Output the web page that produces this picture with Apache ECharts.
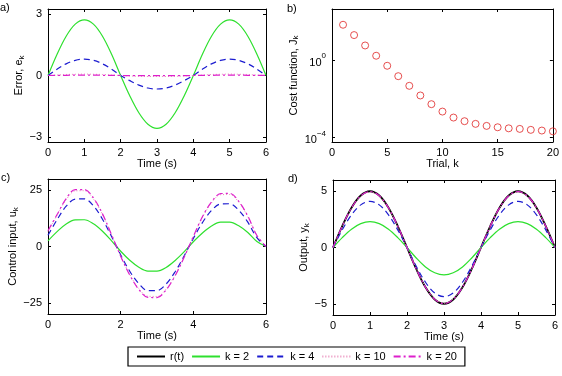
<!DOCTYPE html>
<html>
<head>
<meta charset="utf-8">
<script src="https://cdn.jsdelivr.net/npm/echarts@6/dist/echarts.min.js"></script>
<style>
  html, body { margin: 0; padding: 0; background: #fff; }
  #chart { width: 562px; height: 376px; }
</style>
</head>
<body>
<div id="chart"></div>
<script>
// time samples (s) shared by panels a, c, d
var TIME = [0, 0.25, 0.5, 0.75, 1, 1.25, 1.5, 1.75, 2, 2.25, 2.5, 2.75, 3,
            3.25, 3.5, 3.75, 4, 4.25, 4.5, 4.75, 5, 5.25, 5.5, 5.75, 6];

// a) error e_k
var E2  = [0, 1.04, 1.92, 2.51, 2.72, 2.51, 1.92, 1.04, 0, -0.99, -1.82, -2.38, -2.58, -2.38, -1.82, -0.99, 0, 1.04, 1.92, 2.51, 2.72, 2.51, 1.92, 1.04, 0];
var E4  = [0, 0.31, 0.57, 0.74, 0.80, 0.74, 0.57, 0.31, 0, -0.25, -0.47, -0.61, -0.66, -0.61, -0.47, -0.25, 0, 0.31, 0.57, 0.74, 0.80, 0.74, 0.57, 0.31, 0];
var E10 = [0, 0.02, 0.05, 0.06, 0.07, 0.06, 0.05, 0.02, 0, -0.02, -0.04, -0.05, -0.05, -0.05, -0.04, -0.02, 0, 0.02, 0.05, 0.06, 0.07, 0.06, 0.05, 0.02, 0];
var E20 = [0, 0.01, 0.01, 0.02, 0.02, 0.02, 0.01, 0.01, 0, -0.01, -0.01, -0.01, -0.01, -0.01, -0.01, -0.01, 0, 0.01, 0.01, 0.02, 0.02, 0.02, 0.01, 0.01, 0];

// b) cost function per trial
var TRIALS = [1, 2, 3, 4, 5, 6, 7, 8, 9, 10, 11, 12, 13, 14, 15, 16, 17, 18, 19, 20];
var COST = [67, 19.6, 5.7, 1.68, 0.51, 0.148, 0.047, 0.0149, 0.0053, 0.0022,
            0.00108, 0.00070, 0.00051, 0.00040, 0.00034, 0.00030, 0.00028, 0.00025, 0.00023, 0.00021];

// c) control input u_k
var U2  = [2.5, 6.6, 10.0, 11.8, 11.9, 10.1, 6.8, 2.5, -2.1, -6.1, -9.2, -10.9, -10.9, -9.3, -6.2, -2.3, 2.1, 6.0, 9.1, 10.8, 10.8, 9.2, 6.2, 2.2, 0];
var U4  = [5.0, 11.9, 17.9, 21.1, 21.2, 18.1, 12.1, 4.4, -3.7, -11.0, -16.5, -19.6, -19.6, -16.7, -11.2, -4.1, 3.6, 10.6, 16.0, 18.9, 19.0, 16.1, 10.8, 3.9, 0];
var U10 = [6.6, 13.9, 20.8, 24.7, 24.8, 21.1, 14.2, 5.1, -4.2, -12.4, -18.7, -22.1, -22.2, -18.9, -12.7, -4.6, 4.4, 12.9, 19.4, 23.0, 23.1, 19.7, 13.2, 4.8, 0];
var U20 = [7.0, 14.2, 21.3, 25.3, 25.3, 21.6, 14.5, 5.2, -4.3, -12.7, -19.1, -22.6, -22.7, -19.3, -13.0, -4.7, 4.5, 13.2, 19.8, 23.5, 23.6, 20.1, 13.5, 4.9, 0];

// d) reference and output y_k
var R   = [0, 1.91, 3.54, 4.62, 5, 4.62, 3.54, 1.91, 0, -1.91, -3.54, -4.62, -5, -4.62, -3.54, -1.91, 0, 1.91, 3.54, 4.62, 5, 4.62, 3.54, 1.91, 0];
var Y2  = [0, 0.88, 1.63, 2.12, 2.30, 2.12, 1.63, 0.88, 0, -0.93, -1.73, -2.25, -2.44, -2.25, -1.73, -0.93, 0, 0.88, 1.63, 2.12, 2.30, 2.12, 1.63, 0.88, 0];
var Y4  = [0, 1.57, 2.90, 3.79, 4.10, 3.79, 2.90, 1.57, 0, -1.67, -3.09, -4.04, -4.37, -4.04, -3.09, -1.67, 0, 1.57, 2.90, 3.79, 4.10, 3.79, 2.90, 1.57, 0];
var Y10 = [0, 1.89, 3.49, 4.56, 4.93, 4.56, 3.49, 1.89, 0, -1.89, -3.50, -4.57, -4.95, -4.57, -3.50, -1.89, 0, 1.89, 3.49, 4.56, 4.93, 4.56, 3.49, 1.89, 0];
var Y20 = [0, 1.90, 3.52, 4.60, 4.98, 4.60, 3.52, 1.90, 0, -1.91, -3.53, -4.61, -4.99, -4.61, -3.53, -1.91, 0, 1.90, 3.52, 4.60, 4.98, 4.60, 3.52, 1.90, 0];

var LEGEND = ['r(t)', 'k = 2', 'k = 4', 'k = 10', 'k = 20'];

var FONT = 'Liberation Sans';
var styles = {
  'r(t)':   { color: '#000000', width: 1.8, type: 'solid' },
  'k = 2':  { color: '#2ee02e', width: 1.2, type: 'solid' },
  'k = 4':  { color: '#1c1cd0', width: 1.2, type: [6, 4] },
  'k = 10': { color: '#e888b8', width: 1, type: [1, 2] },
  'k = 20': { color: '#dd20cc', width: 1.2, type: [7, 3, 2, 3] }
};

function pairs(xs, ys) {
  return xs.map(function (x, i) { return [x, ys[i]]; });
}
function minus(v) { return String(v).replace('-', '\u2212'); }

function line(name, ys, axis) {
  var s = styles[name];
  return {
    name: name, type: 'line', xAxisIndex: axis, yAxisIndex: axis,
    data: pairs(TIME, ys), showSymbol: false, symbol: 'none', silent: true, smooth: 0.35,
    lineStyle: { color: s.color, width: s.width, type: s.type },
    itemStyle: { color: s.color }
  };
}

var axLine = { show: true, onZero: false, lineStyle: { color: '#000', width: 1 } };
var lbl = { color: '#000', fontFamily: FONT, fontSize: 11 };
var nameSty = {
  color: '#000', fontFamily: FONT, fontSize: 11,
  rich: {
    b: { fontFamily: FONT, fontSize: 11, lineHeight: 12, verticalAlign: 'top', color: '#000' },
    s: { fontFamily: FONT, fontSize: 8, lineHeight: 8, padding: [7, 0, 0, 0], verticalAlign: 'bottom', color: '#000' }
  }
};

function xPair(grid, min, max, step, name) {
  return [{
    gridIndex: grid, type: 'value', min: min, max: max, interval: step,
    name: name, nameLocation: 'middle', nameGap: 16, nameTextStyle: nameSty,
    axisLine: axLine, splitLine: { show: false },
    axisTick: { inside: true, length: 3, lineStyle: { color: '#000' } },
    axisLabel: Object.assign({ margin: 5, formatter: minus }, lbl)
  }, {
    gridIndex: grid, type: 'value', position: 'top', min: min, max: max, interval: step,
    axisLine: axLine, splitLine: { show: false },
    axisTick: { inside: true, length: 3, lineStyle: { color: '#000' } },
    axisLabel: { show: false }
  }];
}

function yPair(grid, min, max, ticks, name, gap) {
  return [{
    gridIndex: grid, type: 'value', min: min, max: max,
    name: name, nameLocation: 'middle', nameGap: gap, nameTextStyle: nameSty,
    axisLine: axLine, splitLine: { show: false },
    axisTick: { inside: true, length: 3, customValues: ticks, lineStyle: { color: '#000' } },
    axisLabel: Object.assign({ margin: 6, customValues: ticks, formatter: minus }, lbl)
  }, {
    gridIndex: grid, type: 'value', position: 'right', min: min, max: max,
    axisLine: axLine, splitLine: { show: false },
    axisTick: { inside: true, length: 3, customValues: ticks, lineStyle: { color: '#000' } },
    axisLabel: { show: false }
  }];
}

var xa = [].concat(
  xPair(0, 0, 6, 1, 'Time (s)'),
  xPair(1, 0, 20, 5, 'Trial, k'),
  xPair(2, 0, 6, 2, 'Time (s)'),
  xPair(3, 0, 6, 1, 'Time (s)')
);

var logTicks = [0.0001, 1];
var logLeft = {
  gridIndex: 1, type: 'log', logBase: 10, min: 5.9e-5, max: 436,
  name: '{b|Cost function, J}{s|k}', nameLocation: 'middle', nameGap: 32, nameTextStyle: nameSty,
  axisLine: axLine, splitLine: { show: false }, minorTick: { show: false },
  axisTick: { inside: true, length: 3, customValues: logTicks, lineStyle: { color: '#000' } },
  axisLabel: Object.assign({
    margin: 6, customValues: logTicks,
    formatter: function (v) { return v >= 1 ? '{b|10}{s|0}' : '{b|10}{s|\u22124}'; },
    rich: {
      b: { fontFamily: FONT, fontSize: 11, color: '#000', padding: [5, 0, 0, 0], verticalAlign: 'top' },
      s: { fontFamily: FONT, fontSize: 8, color: '#000', verticalAlign: 'top' }
    }
  }, lbl)
};
var logRight = {
  gridIndex: 1, type: 'log', logBase: 10, min: 5.9e-5, max: 436, position: 'right',
  axisLine: axLine, splitLine: { show: false },
  axisTick: { inside: true, length: 3, customValues: logTicks, lineStyle: { color: '#000' } },
  axisLabel: { show: false }
};

var ya = [].concat(
  yPair(0, -3.25, 3.25, [-3, 0, 3], '{b|Error, e}{s|k}', 22),
  [logLeft, logRight],
  yPair(2, -30, 30, [-25, 0, 25], '{b|Control input, u}{s|k}', 28),
  yPair(3, -6, 6, [-5, 0, 5], '{b|Output, y}{s|k}', 22)
);

var chart = echarts.init(document.getElementById('chart'), null, { renderer: 'canvas' });

chart.setOption({
  animation: false,
  backgroundColor: '#fff',
  textStyle: { fontFamily: FONT },
  grid: [
    { left: 48, top: 9, width: 218, height: 133 },
    { left: 332, top: 9, width: 225, height: 133 },
    { left: 48, top: 179, width: 218, height: 135 },
    { left: 333, top: 180, width: 222, height: 135 }
  ],
  xAxis: xa,
  yAxis: ya,
  legend: {
    data: LEGEND, left: 128, top: 347, orient: 'horizontal',
    itemWidth: 28, itemHeight: 10, itemGap: 7, padding: [4, 8, 4, 8],
    borderColor: '#000', borderWidth: 1.2, borderRadius: 0,
    itemStyle: { opacity: 0 },
    textStyle: { color: '#000', fontFamily: FONT, fontSize: 11 },
    selectedMode: false
  },
  graphic: [
    { type: 'text', left: 0, top: 2, style: { text: 'a)', font: '11px ' + FONT, fill: '#000' } },
    { type: 'text', left: 287, top: 3, style: { text: 'b)', font: '11px ' + FONT, fill: '#000' } },
    { type: 'text', left: 1, top: 172, style: { text: 'c)', font: '11px ' + FONT, fill: '#000' } },
    { type: 'text', left: 288, top: 173, style: { text: 'd)', font: '11px ' + FONT, fill: '#000' } }
  ],
  series: [
    line('k = 2', E2, 0), line('k = 4', E4, 0), line('k = 10', E10, 0), line('k = 20', E20, 0),
    {
      name: 'cost', type: 'scatter', xAxisIndex: 2, yAxisIndex: 2,
      data: pairs(TRIALS, COST), symbol: 'circle', symbolSize: 7, silent: true,
      itemStyle: { color: 'rgba(0,0,0,0)', borderColor: '#e02424', borderWidth: 1 }
    },
    line('k = 2', U2, 4), line('k = 4', U4, 4), line('k = 10', U10, 4), line('k = 20', U20, 4),
    line('r(t)', R, 6), line('k = 2', Y2, 6), line('k = 4', Y4, 6), line('k = 10', Y10, 6), line('k = 20', Y20, 6)
  ]
});
</script>
</body>
</html>
